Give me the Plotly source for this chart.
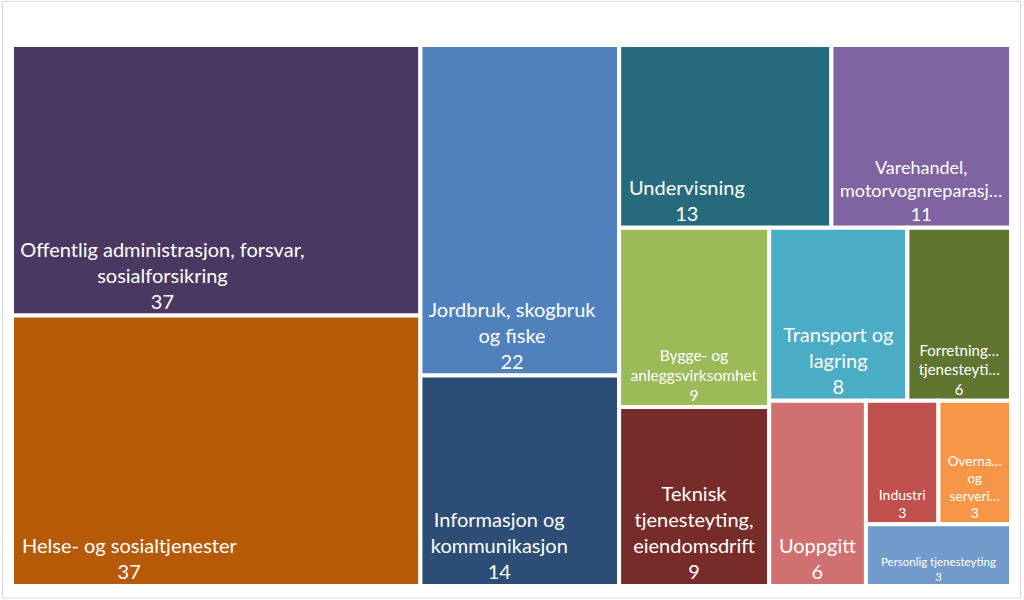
import plotly.graph_objects as go

# næringer (sortert som i referansen)
labels = [
    "Offentlig administrasjon, forsvar, sosialforsikring",
    "Helse- og sosialtjenester",
    "Jordbruk, skogbruk og fiske",
    "Informasjon og kommunikasjon",
    "Undervisning",
    "Varehandel, motorvognreparasjoner",
    "Bygge- og anleggsvirksomhet",
    "Teknisk tjenesteyting, eiendomsdrift",
    "Transport og lagring",
    "Forretningsmessig tjenesteyting",
    "Uoppgitt",
    "Industri",
    "Overnattings- og serveringsvirksomhet",
    "Personlig tjenesteyting",
]
values = [37, 37, 22, 14, 13, 11, 9, 9, 8, 6, 6, 3, 3, 3]

# teksten slik den vises i rutene (Excel kutter lange navn)
shown = [
    ["Offentlig administrasjon, forsvar,", "sosialforsikring"],
    ["Helse- og sosialtjenester"],
    ["Jordbruk, skogbruk", "og fiske"],
    ["Informasjon og", "kommunikasjon"],
    ["Undervisning"],
    ["Varehandel,", "motorvognreparasj…"],
    ["Bygge- og", "anleggsvirksomhet"],
    ["Teknisk", "tjenesteyting,", "eiendomsdrift"],
    ["Transport og", "lagring"],
    ["Forretning…", "tjenesteyti…"],
    ["Uoppgitt"],
    ["Industri"],
    ["Overna…", "og", "serveri…"],
    ["Personlig tjenesteyting"],
]
colors = [
    "#4B3862", "#B55A07", "#4F81BD", "#2C4D75", "#276A7C", "#8064A2",
    "#9BBB59", "#772C2A", "#4BACC6", "#5F7530", "#D07070", "#C0504D",
    "#F79646", "#729ACA",
]
font_sizes = [20, 20, 20, 20, 20, 18, 15.5, 20, 20, 15, 20, 14, 13.5, 11.5]

# Excel legger teksten i de store rutene mot venstre; skyv med hardt mellomrom
left_shift = {0: 21, 1: 34, 2: 3, 3: 8, 4: 15}

templates = []
for i, lines in enumerate(shown):
    tail = "\u00a0" * left_shift.get(i, 0)
    rows = [ln + tail for ln in lines] + ["%{value}" + tail]
    templates.append("<br>".join(rows))

root = "Alle"
fig = go.Figure(go.Treemap(
    labels=[root] + labels,
    parents=[""] + [root] * len(labels),
    values=[0] + values,
    texttemplate=[""] + templates,
    textposition="bottom center",
    textfont=dict(family="Lato", color="white", size=[12] + font_sizes),
    marker=dict(colors=["white"] + colors,
                line=dict(color="white", width=[0] + [4] * len(labels)),
                pad=dict(t=0, l=0, r=0, b=0)),
    root=dict(color="white"),
    tiling=dict(packing="squarify", squarifyratio=1, pad=0),
    pathbar=dict(visible=False),
    branchvalues="remainder",
    sort=True,
    hoverinfo="label+value",
))

# tynn grå ramme rundt hele diagramområdet
fig.add_shape(type="rect", xref="paper", yref="paper",
              x0=-0.0095, x1=1.0095, y0=-0.0222, y1=1.0804,
              line=dict(color="#D9D9D9", width=1))

fig.update_layout(
    width=1024, height=600,
    margin=dict(l=12, r=13, t=45, b=14),
    paper_bgcolor="white",
    font=dict(family="Lato"),
)
fig.write_html("out.html", config={"displayModeBar": False},
               post_script="document.body.style.margin='0';")
